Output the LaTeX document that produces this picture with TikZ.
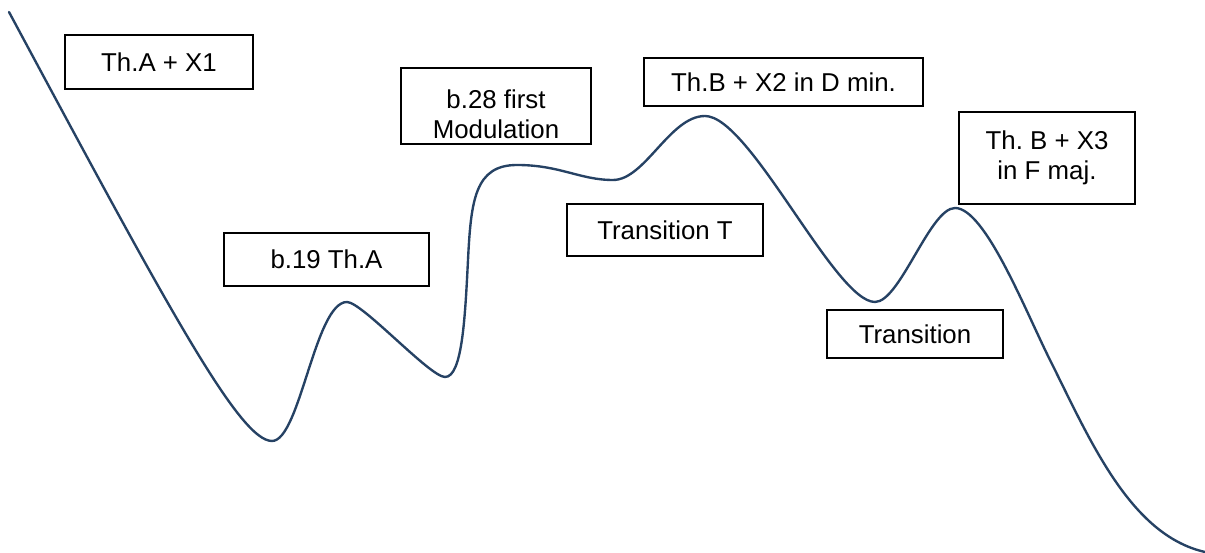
\documentclass[tikz,border=0pt]{standalone}
\usepackage{fontspec}
\setmainfont{Liberation Sans}
\frenchspacing
\definecolor{curvecol}{RGB}{38,66,100}
\tikzset{
  lbl/.style={draw=black, line width=1pt, align=center, inner sep=0pt,
    font=\fontsize{14.7}{17}\selectfont, text=black},
  wave/.style={draw=curvecol, line width=1.35pt, line cap=round}
}
\begin{document}
\begin{tikzpicture}[x=0.02cm,y=-0.02cm]
\useasboundingbox (0,0) rectangle (1205,553);
% boxes
\node[lbl, minimum width=188*0.02cm, minimum height=54*0.02cm] (b1) at (159,62) {Th.A + X1};
\node[lbl, minimum width=190*0.02cm, minimum height=76*0.02cm] (b2) at (496,106) {\rule{0pt}{20pt}b.28 first\\Modulation};
\node[lbl, minimum width=279*0.02cm, minimum height=48*0.02cm] (b3) at (783.5,82) {Th.B + X2 in D min.};
\node[lbl, minimum width=196*0.02cm, minimum height=52*0.02cm] (b4) at (665,230) {Transition T};
\node[lbl, minimum width=176*0.02cm, minimum height=92*0.02cm] (b5) at (1047,158) {Th. B + X3\\in F maj.};
\node[lbl, minimum width=205*0.02cm, minimum height=53*0.02cm] (b6) at (326.5,259.5) {b.19 Th.A};
\node[lbl, minimum width=176*0.02cm, minimum height=48*0.02cm] (b7) at (915,334) {Transition};
% curve
\coordinate (p0) at (9,12);
\coordinate (p1) at (272,441);
\coordinate (p2) at (347,302);
\coordinate (p3) at (445,377);
\coordinate (p4) at (468,260);
\coordinate (p5) at (517,165);
\coordinate (p6) at (613,180);
\coordinate (p7) at (705,116);
\coordinate (p8) at (875,302);
\coordinate (p9) at (955,208);
\coordinate (p10) at (1050,360);
\coordinate (p11) at (1205,552);
\draw[wave] (p0) .. controls (170,312) and (240,441) .. (p1)
  .. controls (300,441) and (315,302) .. (p2)
  .. controls (362,302) and (430,377) .. (p3)
  .. controls (462,377) and (465,320) .. (p4)
  .. controls (471,200) and (475,165) .. (p5)
  .. controls (560,165) and (580,180) .. (p6)
  .. controls (645,180) and (670,116) .. (p7)
  .. controls (750,116) and (835,302) .. (p8)
  .. controls (900,302) and (930,208) .. (p9)
  .. controls (985,208) and (1025,310) .. (p10)
  .. controls (1090,440) and (1130,535) .. (p11);
\end{tikzpicture}
\end{document}
